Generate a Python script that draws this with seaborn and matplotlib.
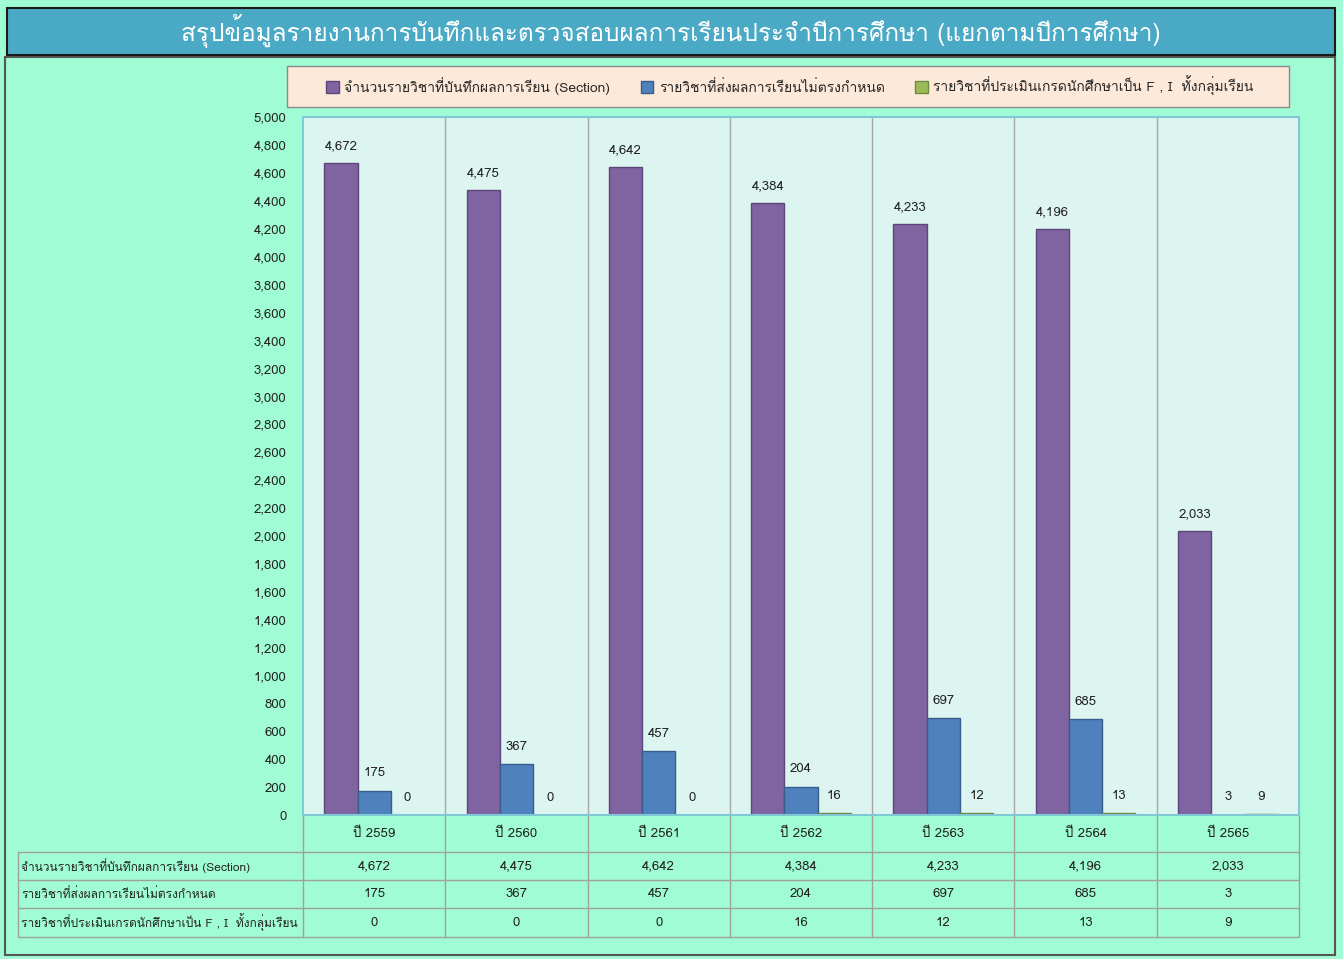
import seaborn as sns
import numpy as np
import pandas as pd
import matplotlib.pyplot as plt
from matplotlib.patches import Rectangle

years = ['ปี 2559', 'ปี 2560', 'ปี 2561', 'ปี 2562', 'ปี 2563', 'ปี 2564', 'ปี 2565']
sections = [4672, 4475, 4642, 4384, 4233, 4196, 2033]
late = [175, 367, 457, 204, 697, 685, 3]
fgrade = [0, 0, 0, 16, 12, 13, 9]
series = ['จำนวนรายวิชาที่บันทึกผลการเรียน (Section)',
          'รายวิชาที่ส่งผลการเรียนไม่ตรงกำหนด',
          'รายวิชาที่ประเมินเกรดนักศึกษาเป็น F , I  ทั้งกลุ่มเรียน']
title = 'สรุปข้อมูลรายงานการบันทึกและตรวจสอบผลการเรียนประจำปีการศึกษา (แยกตามปีการศึกษา)'
colors = ['#8064a2', '#4f81bd', '#9bbb59']
edges = ['#5c4579', '#385d8a', '#71893f']

df = pd.DataFrame({'year': years * 3,
                   'value': sections + late + fgrade,
                   'series': [series[0]] * 7 + [series[1]] * 7 + [series[2]] * 7})

sns.set_style('white')
plt.rcParams['font.family'] = ['Loma', 'DejaVu Sans']

W, H = 1343, 959
fig = plt.figure(figsize=(W / 100, H / 100), dpi=100)
fig.patch.set_facecolor('#a0fcd4')

def px(x0, y0, x1, y1):
    return [x0 / W, 1 - y1 / H, (x1 - x0) / W, (y1 - y0) / H]

# overlay for frame / title / table
bg = fig.add_axes([0, 0, 1, 1], zorder=0)
bg.set_xlim(0, W)
bg.set_ylim(H, 0)
bg.axis('off')
bg.add_patch(Rectangle((5, 57), 1330, 898, facecolor='#a0fcd4', edgecolor='#555555', lw=1.5))
bg.add_patch(Rectangle((7, 8), 1328, 47, facecolor='#4aaac6', edgecolor='#1a1a1a', lw=1.5))
bg.text(671, 31, title, color='white', fontsize=17.5, ha='center', va='center')

# legend box
bg.add_patch(Rectangle((287, 66), 1002, 41, facecolor='#fde9d9', edgecolor='#8a8a8a', lw=1))

ax = fig.add_axes(px(303, 117, 1299, 815), zorder=1)
ax.set_facecolor('#dcf5f0')
sns.barplot(data=df, x='year', y='value', hue='series', palette=colors,
            width=0.7, gap=0, ax=ax, legend=False, saturation=1)
for cont, ec in zip(ax.containers, edges):
    for b in cont:
        b.set_edgecolor(ec)
        b.set_linewidth(1)
    ax.bar_label(cont, labels=[f'{v:,.0f}' for v in cont.datavalues], padding=8, fontsize=9.5, color='#222222')

ax.set_ylim(0, 5000)
ax.set_xlim(-0.5, len(years) - 0.5)
ax.set_yticks(np.arange(0, 5001, 200))
ax.set_yticklabels([f'{v:,}' for v in range(0, 5001, 200)], fontsize=9.5, color='#222222')
ax.tick_params(axis='y', length=5, color='#888888', pad=7)
ax.set_xticks([])
ax.set_xlabel('')
ax.set_ylabel('')
for k in range(1, len(years)):
    ax.axvline(k - 0.5, color='#a6a6a6', lw=1)
for s in ax.spines.values():
    s.set_color('#7fc9d6')
    s.set_linewidth(1.5)

# legend entries
handles = [Rectangle((0, 0), 1, 1, facecolor=c, edgecolor=e) for c, e in zip(colors, edges)]
fig.legend(handles, series, loc='center', bbox_to_anchor=(790 / W, 1 - 86 / H), ncol=3,
           frameon=False, fontsize=10, handlelength=0.9, handleheight=0.9, columnspacing=2.2,
           handletextpad=0.4)

# data table
colx = np.linspace(303, 1299, len(years) + 1)
rows_y = [816, 852, 880, 908, 937]
lc = '#a0a0a0'
for x in colx:
    bg.plot([x, x], [rows_y[0], rows_y[-1]], color=lc, lw=1)
bg.plot([18, 18], [rows_y[1], rows_y[-1]], color=lc, lw=1)
for y in rows_y[1:]:
    bg.plot([18, 1299], [y, y], color=lc, lw=1)
for i, yr in enumerate(years):
    cx = (colx[i] + colx[i + 1]) / 2
    bg.text(cx, (rows_y[0] + rows_y[1]) / 2, yr, ha='center', va='center', fontsize=9.5, color='#222222')
for r, (name, vals) in enumerate(zip(series, [sections, late, fgrade])):
    cy = (rows_y[r + 1] + rows_y[r + 2]) / 2
    bg.text(21, cy, name, ha='left', va='center', fontsize=8.6, color='#222222')
    for i, v in enumerate(vals):
        cx = (colx[i] + colx[i + 1]) / 2
        bg.text(cx, cy, f'{v:,}', ha='center', va='center', fontsize=9.5, color='#222222')

fig.savefig('out.png', dpi=100, facecolor=fig.get_facecolor())
